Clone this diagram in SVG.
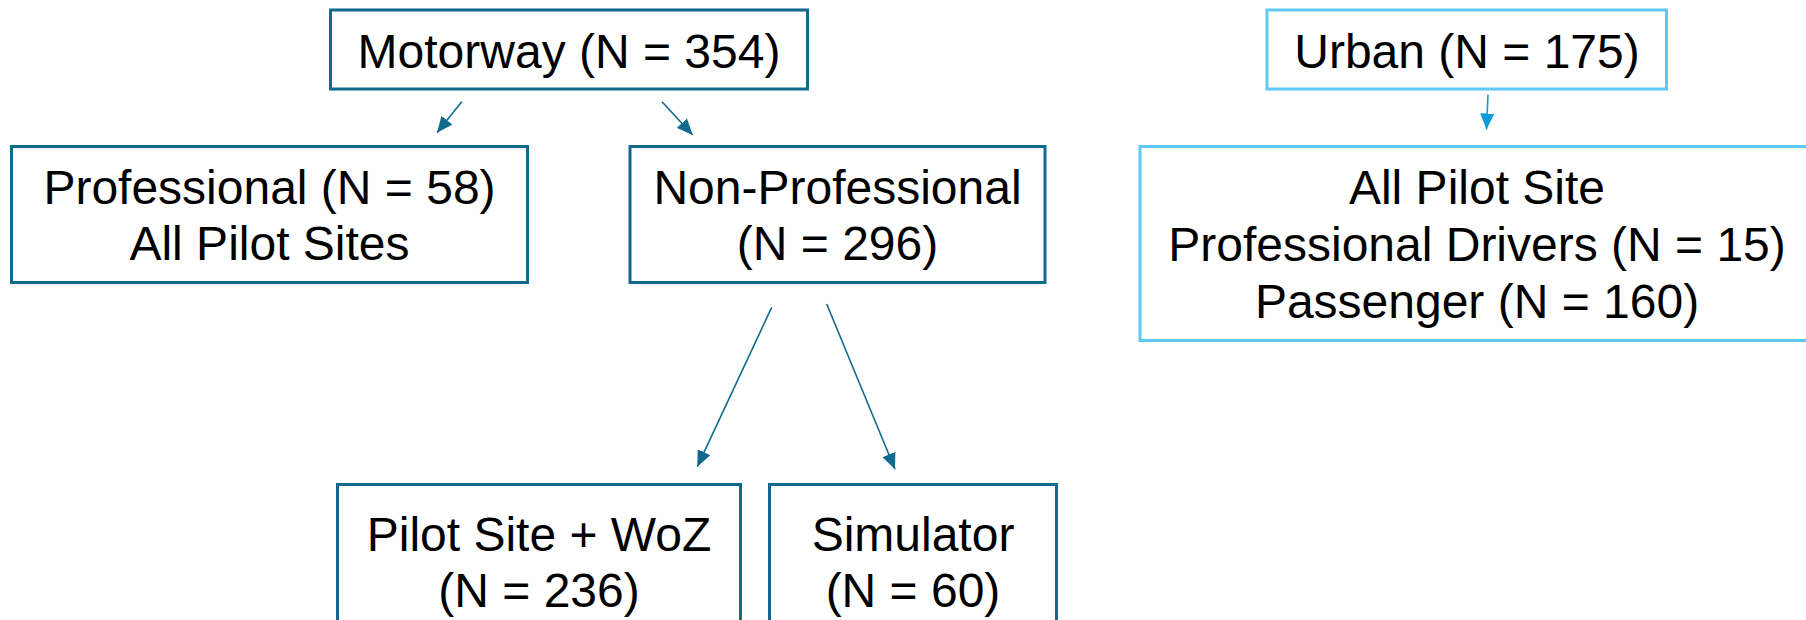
<svg xmlns="http://www.w3.org/2000/svg" width="1806" height="620" viewBox="0 0 1806 620">
  <style>
    .box { fill: #ffffff; stroke: #0f6a8e; stroke-width: 3; }
    .lbox { fill: #ffffff; stroke: #5cc9f6; stroke-width: 3; }
    .t { font-family: "Liberation Sans", Arial, sans-serif; font-size: 48px; fill: #000000; text-anchor: middle; }
    .c { stroke: #0f6a8e; stroke-width: 1.6; fill: none; marker-end: url(#ah); }
    .cl { stroke: #0a9bd9; stroke-width: 1.6; fill: none; marker-end: url(#ahl); }
  </style>
  <defs>
    <marker id="ah" markerUnits="userSpaceOnUse" markerWidth="16" markerHeight="14" refX="16" refY="7" orient="auto">
      <path d="M0,0 L16,7 L0,14 z" fill="#0f6a8e"/>
    </marker>
    <marker id="ahl" markerUnits="userSpaceOnUse" markerWidth="16" markerHeight="14" refX="16" refY="7" orient="auto">
      <path d="M0,0 L16,7 L0,14 z" fill="#0a9bd9"/>
    </marker>
  </defs>
  <rect width="1806" height="620" fill="#ffffff"/>

  <g id="connectors">
    <line class="c" x1="461.7" y1="101.7" x2="437" y2="132.7"/>
    <line class="c" x1="662" y1="101.7" x2="692.7" y2="135"/>
    <line class="c" x1="771.7" y1="307.3" x2="697.3" y2="466.7"/>
    <line class="c" x1="826.7" y1="304" x2="895" y2="469.3"/>
    <line class="cl" x1="1488" y1="94.5" x2="1486.5" y2="129.5"/>
  </g>

  <g id="motorway">
    <rect class="box" x="330.5" y="10" width="477" height="79"/>
    <text class="t" x="569" y="68">Motorway (N = 354)</text>
  </g>

  <g id="professional">
    <rect class="box" x="11.5" y="146.5" width="516" height="136"/>
    <text class="t" x="269.5" y="204">Professional (N = 58)</text>
    <text class="t" x="269.5" y="260">All Pilot Sites</text>
  </g>

  <g id="non-professional">
    <rect class="box" x="630" y="146.5" width="415" height="136"/>
    <text class="t" x="837.5" y="203.5">Non-Professional</text>
    <text class="t" x="837.5" y="259.5">(N = 296)</text>
  </g>

  <g id="pilot-site-woz">
    <rect class="box" x="337.5" y="484.5" width="403" height="137"/>
    <text class="t" x="539" y="550.5">Pilot Site + WoZ</text>
    <text class="t" x="539" y="607">(N = 236)</text>
  </g>

  <g id="simulator">
    <rect class="box" x="769.5" y="484.5" width="287" height="137"/>
    <text class="t" x="913" y="550.5">Simulator</text>
    <text class="t" x="913" y="607">(N = 60)</text>
  </g>

  <g id="urban">
    <rect class="lbox" x="1267" y="10" width="399.5" height="79"/>
    <text class="t" x="1467" y="68">Urban (N = 175)</text>
  </g>

  <g id="urban-detail">
    <rect class="lbox" x="1140" y="146.5" width="680" height="194"/>
    <text class="t" x="1477" y="204">All Pilot Site</text>
    <text class="t" x="1477" y="261">Professional Drivers (N = 15)</text>
    <text class="t" x="1477" y="318">Passenger (N = 160)</text>
  </g>
</svg>
